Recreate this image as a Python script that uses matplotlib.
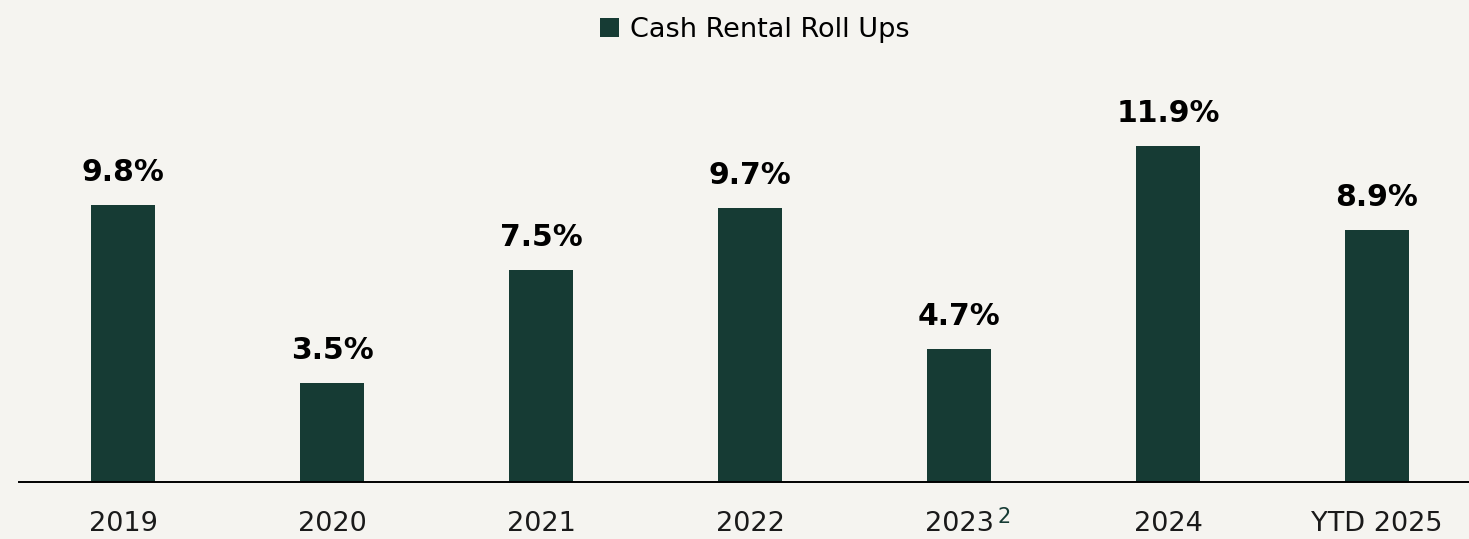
import matplotlib.pyplot as plt

# ---------------- data ----------------
years = ["2019", "2020", "2021", "2022", "2023", "2024", "YTD 2025"]
roll_ups = [9.8, 3.5, 7.5, 9.7, 4.7, 11.9, 8.9]
labels = ["9.8%", "3.5%", "7.5%", "9.7%", "4.7%", "11.9%", "8.9%"]

bg = "#f5f4f0"
bar_col = "#163b34"

fig = plt.figure(figsize=(14.69, 5.39), dpi=100, facecolor=bg)
ax = fig.add_axes([0.0129, 0.1058, 0.9871, 0.8942])
ax.set_facecolor(bg)

x = list(range(len(years)))
bars = ax.bar(x, roll_ups, width=0.31, color=bar_col, label="Cash Rental Roll Ups")

for xi, v, lab in zip(x, roll_ups, labels):
    ax.annotate(lab, (xi, v), xytext=(0, 13), textcoords="offset points",
                ha="center", va="bottom", fontsize=21.5, fontweight="bold", color="black")

ax.set_xlim(-0.498, 6.44)
ax.set_ylim(0, 17.05)
ax.set_xticks(x)
ax.set_xticklabels(years, fontsize=19.5, color="#1a1a1a")
ax.tick_params(axis="x", length=0, pad=21)
ax.set_yticks([])
for s in ["top", "left", "right"]:
    ax.spines[s].set_visible(False)
ax.spines["bottom"].set_linewidth(1.4)
ax.spines["bottom"].set_color("black")

# footnote marker on 2023
ax.annotate("2", (4, 0), xytext=(28, -25), textcoords="offset points",
            ha="left", va="center", fontsize=15, color=bar_col)

leg = fig.legend(handles=[bars], loc="upper center", bbox_to_anchor=(0.514, 1.013),
                 frameon=False, fontsize=19.5, handlelength=0.7, handleheight=0.7,
                 handletextpad=0.4)

fig.savefig("out.png", facecolor=bg)
